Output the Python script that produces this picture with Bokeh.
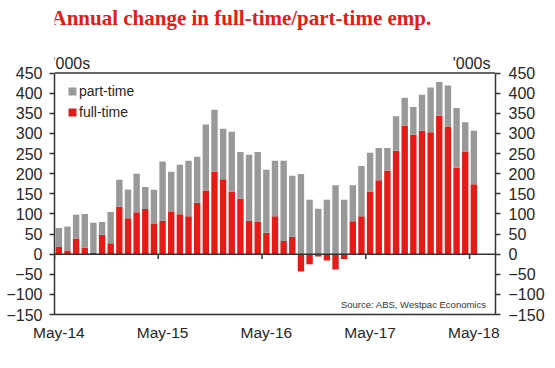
import numpy as np
import pandas as pd
from bokeh.plotting import figure
from bokeh.models import Range1d, LinearAxis, FixedTicker, Span, Label, Legend, LegendItem
from bokeh.embed import file_html
from bokeh.resources import INLINE

# ---- data ('000s, annual change) ----
months = list(pd.period_range("2014-05", "2018-05", freq="M").strftime("%b-%y"))
full_time = [18, 9, 39, 16, 3, 48, 27, 118, 89, 104, 112, 75, 83, 105, 99, 94, 128,
             158, 205, 186, 155, 138, 83, 81, 53, 94, 33, 43, -43, -25, -6, -16, -38,
             -12, 82, 94, 156, 184, 208, 257, 319, 297, 307, 303, 344, 317, 215, 255, 174]
part_time = [47, 60, 59, 84, 75, 32, 78, 67, 72, 96, 55, 85, 147, 100, 123, 138, 114,
             164, 154, 126, 149, 116, 164, 173, 157, 138, 199, 152, 199, 135, 113, 135, 171,
             135, 89, 125, 96, 80, 56, 86, 70, 69, 89, 111, 84, 102, 148, 73, 133]
tick_labels = ["May-14", "May-15", "May-16", "May-17", "May-18"]
y_ticks = [-150, -100, -50, 0, 50, 100, 150, 200, 250, 300, 350, 400, 450]
Y_MIN, Y_MAX = -150, 450

RED = "#E41B17"
GREY = "#999999"
DARK = "#333333"
TXT = "#262626"
FONT = "Liberation Sans"

n = len(months)
x = np.arange(n) + 0.5
ft = np.array(full_time, dtype=float)
pt = np.array(part_time, dtype=float)
pt_bottom = np.maximum(ft, 0)
pt_top = pt_bottom + pt
tick_idx = [months.index(t) for t in tick_labels]

# frame extends above the value axis so that title and unit labels sit inside it
p = figure(width=555, height=368, output_backend="svg", toolbar_location=None,
           x_range=Range1d(0, 51), y_range=Range1d(Y_MIN, 630.5),
           min_border_left=54, min_border_right=60, min_border_top=0, min_border_bottom=54)
p.xgrid.visible = False
p.ygrid.visible = False
p.outline_line_color = None
p.background_fill_color = "white"
p.border_fill_color = "white"

r_ft = p.vbar(x=x, width=0.74, bottom=0, top=ft, fill_color=RED, line_color=None)
r_pt = p.vbar(x=x, width=0.74, bottom=pt_bottom, top=pt_top, fill_color=GREY, line_color=None)

p.add_layout(Span(location=0, dimension="width", line_color=DARK, line_width=1.5))
p.add_layout(Span(location=Y_MAX, dimension="width", line_color=DARK, line_width=1.5))
p.segment(x0=tick_idx, y0=[0] * len(tick_idx), x1=tick_idx, y1=[-12] * len(tick_idx),
          line_color=DARK, line_width=1.5)

# axes
xa = p.xaxis[0]
xa.ticker = FixedTicker(ticks=[i + 0.5 for i in tick_idx])
xa.major_label_overrides = {i + 0.5: lab for i, lab in zip(tick_idx, tick_labels)}
xa.major_tick_line_color = None
xa.minor_tick_line_color = None
xa.major_tick_out = 0
xa.axis_line_color = DARK
xa.axis_line_width = 1.5
xa.major_label_standoff = 9
xa.major_label_text_font = FONT
xa.major_label_text_font_size = "15.5px"
xa.major_label_text_color = TXT

ya = p.yaxis[0]
ya.ticker = FixedTicker(ticks=y_ticks)
ra = LinearAxis(ticker=FixedTicker(ticks=y_ticks))
p.add_layout(ra, "right")
for ax in (ya, ra):
    ax.bounds = (Y_MIN, Y_MAX)
    ax.major_tick_out = 5
    ax.major_tick_in = 0
    ax.minor_tick_line_color = None
    ax.major_tick_line_color = DARK
    ax.major_tick_line_width = 1.5
    ax.axis_line_color = DARK
    ax.axis_line_width = 1.5
    ax.major_label_text_font = FONT
    ax.major_label_text_font_size = "16px"
    ax.major_label_text_color = TXT
ya.major_label_standoff = 7
ra.major_label_standoff = 8

legend = Legend(items=[LegendItem(label="part-time", renderers=[r_pt]),
                       LegendItem(label="full-time", renderers=[r_ft])],
                location=(13, 194), margin=0, padding=0, spacing=5,
                glyph_width=10, glyph_height=10, label_height=10, label_standoff=2,
                label_text_font=FONT, label_text_font_size="14px", label_text_color=TXT,
                border_line_color=None, background_fill_alpha=0)
p.add_layout(legend)

p.add_layout(Label(x=0, y=Y_MAX, x_offset=-3, y_offset=55, text="Annual change in full-time/part-time emp.",
                   text_font="Liberation Serif", text_font_style="bold", text_font_size="21px",
                   text_color=RED, text_baseline="alphabetic"))
p.add_layout(Label(x=0, y=Y_MAX, x_offset=-2, y_offset=10, text="'000s", text_font=FONT,
                   text_font_size="16px", text_color=TXT, text_baseline="alphabetic"))
p.add_layout(Label(x=51, y=Y_MAX, x_offset=-5, y_offset=10, text="'000s", text_font=FONT,
                   text_font_size="16px", text_color=TXT, text_baseline="alphabetic",
                   text_align="right"))
p.add_layout(Label(x=51, y=Y_MIN, x_offset=-9, y_offset=5, text="Source: ABS, Westpac Economics",
                   text_font=FONT, text_font_size="9.5px", text_color=DARK,
                   text_baseline="bottom", text_align="right"))

open("out.html", "w").write(file_html(p, INLINE))
